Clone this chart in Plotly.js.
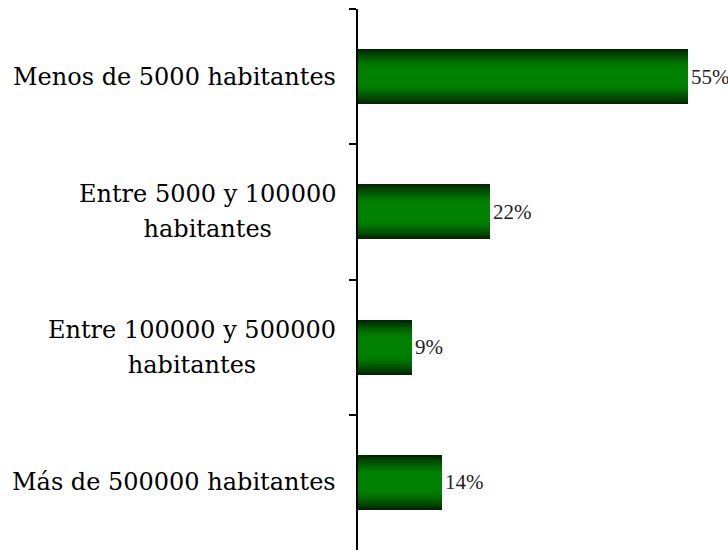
<!DOCTYPE html>
<html>
<head>
<meta charset="utf-8">
<script src="https://cdn.plot.ly/plotly-3.0.1.min.js"></script>
<style>html,body{margin:0;padding:0;background:#fff;}#chart{width:728px;height:553px;}</style>
</head>
<body>
<div id="chart"></div>
<script>
const categories = [
  "Menos de 5000 habitantes",
  "Entre 5000 y 100000<br>habitantes",
  "Entre 100000 y 500000<br>habitantes",
  "Más de 500000 habitantes"
];
const values = [55, 22, 9, 14];
const valueLabels = ["55%", "22%", "9%", "14%"];

// Simulated vertical gradient: overlaid bars of decreasing thickness
const N = 14;
const fullWidth = 0.407;
const dark = [0, 40, 0], bright = [0, 128, 0];
function colorAt(d) {
  let t = Math.max(0, (d - 0.35) / 0.65);
  t = Math.pow(t, 1.4);
  const c = dark.map((v, i) => Math.round(bright[i] + (v - bright[i]) * t));
  return `rgb(${c[0]},${c[1]},${c[2]})`;
}
const traces = [];
for (let k = 0; k < N; k++) {
  const d = 1 - k / N;
  const first = k === 0;
  traces.push({
    type: 'bar',
    orientation: 'h',
    y: categories,
    x: values,
    width: fullWidth * d,
    marker: {color: colorAt(d), line: {width: 0}},
    hoverinfo: 'skip',
    showlegend: false,
    text: first ? valueLabels : undefined,
    textposition: first ? 'outside' : 'none',
    textfont: {family: 'Liberation Serif, serif', size: 21, color: '#222'},
    cliponaxis: false,
    constraintext: 'none'
  });
}

const annotations = categories.map(c => ({
  xref: 'paper', yref: 'y',
  x: 0, y: c,
  xanchor: 'right', yanchor: 'middle',
  xshift: -20,
  align: 'center',
  showarrow: false,
  text: c.split('<br>').map(l => `<span style="font-size:24px">${l}</span>`).join('<br>'),
  font: {family: 'DejaVu Serif, serif', size: 27, color: '#000'}
}));

const layout = {
  width: 728, height: 553,
  margin: {l: 358, r: 10, t: 9, b: 3},
  paper_bgcolor: '#fff', plot_bgcolor: '#fff',
  barmode: 'overlay',
  bargap: 0,
  xaxis: {visible: false, range: [0, 60], fixedrange: true},
  yaxis: {
    type: 'category',
    categoryorder: 'array', categoryarray: categories,
    range: [3.5, -0.5],
    showline: true, linecolor: '#000', linewidth: 2,
    ticks: 'outside', tickson: 'boundaries', ticklen: 7, tickwidth: 2, tickcolor: '#000',
    showticklabels: false, showgrid: false, zeroline: false
  },
  annotations: annotations
};
Plotly.newPlot('chart', traces, layout, {displayModeBar: false, staticPlot: true});
</script>
</body>
</html>
